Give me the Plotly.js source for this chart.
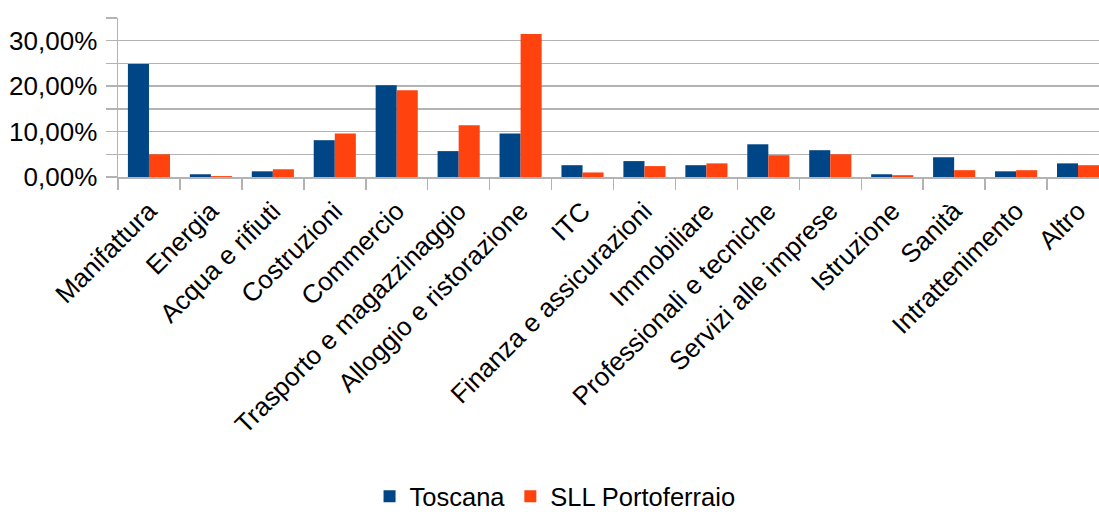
<!DOCTYPE html>
<html>
<head>
<meta charset="utf-8">
<script src="https://cdn.plot.ly/plotly-3.0.1.min.js"></script>
<style>
html,body{margin:0;padding:0;overflow:hidden;background:#fff;}
#chart{width:1115px;height:512px;}
</style>
</head>
<body>
<div id="chart"></div>
<script>
const categories = ["Manifattura","Energia","Acqua e rifiuti","Costruzioni","Commercio","Trasporto e magazzinaggio","Alloggio e ristorazione","ITC","Finanza e assicurazioni","Immobiliare","Professionali e tecniche","Servizi alle imprese","Istruzione","Sanità","Intrattenimento","Altro"];
const toscana = [0.249,0.006,0.0125,0.081,0.202,0.057,0.096,0.026,0.035,0.026,0.072,0.059,0.006,0.0435,0.0125,0.030];
const portoferraio = [0.050,0.002,0.017,0.096,0.191,0.114,0.315,0.010,0.024,0.030,0.048,0.050,0.004,0.015,0.015,0.026];
const seriesNames = ["Toscana","SLL Portoferraio"];

const fam = "Liberation Sans, Arial, sans-serif";
const grid = "#b3b3b3";

const data = [
  {type:"bar", name:seriesNames[0], x:categories, y:toscana, marker:{color:"#004586"}, hoverinfo:"x+y"},
  {type:"bar", name:seriesNames[1], x:categories, y:portoferraio, marker:{color:"#ff420e"}, hoverinfo:"x+y"}
];

const layout = {
  width:1115, height:512,
  margin:{l:118, r:6, t:18, b:335},
  paper_bgcolor:"#fff", plot_bgcolor:"#fff",
  font:{family:fam, size:25, color:"#000"},
  separators:",.",
  barmode:"group",
  bargap:0.32,
  bargroupgap:0,
  showlegend:true,
  legend:{orientation:"h", xref:"container", yref:"container", x:0.4978, xanchor:"center", y:0.03, yanchor:"middle",
          font:{family:fam, size:25.5, color:"#000"}, itemwidth:30, traceorder:"normal", bgcolor:"rgba(0,0,0,0)"},
  xaxis:{
    type:"category",
    tickangle:-45,
    tickson:"boundaries",
    ticks:"outside", ticklen:11, tickwidth:1.5, tickcolor:grid,
    showline:true, linecolor:grid, linewidth:1.5,
    showgrid:false, zeroline:false,
    tickfont:{family:fam, size:26, color:"#000"},
    ticklabelstandoff:7,
    automargin:false
  },
  yaxis:{
    range:[0,0.35],
    dtick:0.1, tick0:0,
    tickformat:".2%",
    ticks:"outside", ticklen:11, tickwidth:1.5, tickcolor:grid,
    showgrid:true, gridcolor:grid, gridwidth:1.5,
    minor:{dtick:0.05, showgrid:true, gridcolor:grid, gridwidth:1.5, ticks:"outside", ticklen:11, tickcolor:grid, tickwidth:1.5},
    showline:true, linecolor:grid, linewidth:1.5,
    zeroline:false,
    tickfont:{family:fam, size:26, color:"#000"},
    ticklabelstandoff:3,
    automargin:false
  }
};

Plotly.newPlot("chart", data, layout, {displayModeBar:false, staticPlot:true});
</script>
</body>
</html>
